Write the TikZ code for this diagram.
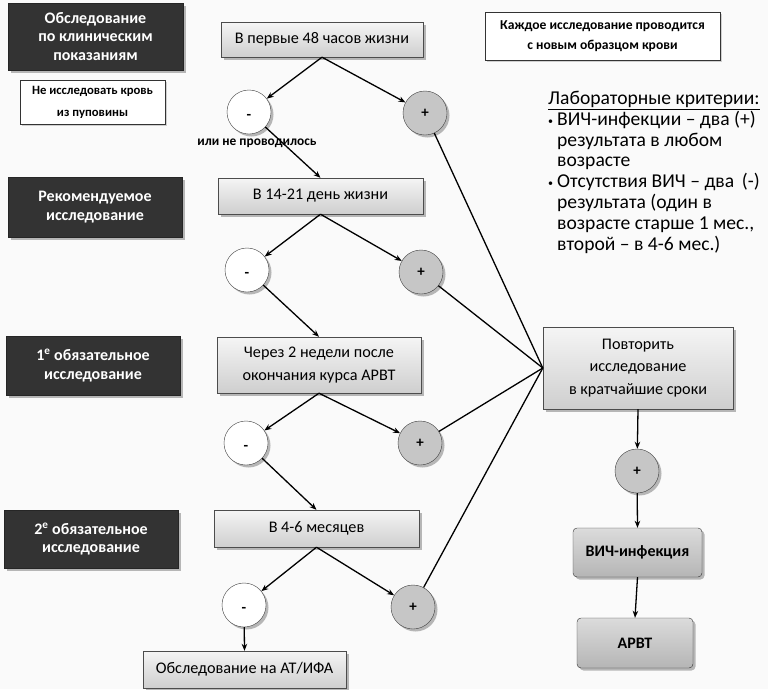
\documentclass[tikz,border=0pt]{standalone}
\usepackage{fontspec}
\setmainfont{Carlito}
\usetikzlibrary{shadows,arrows.meta}
\newcommand{\minussign}{\raisebox{-4pt}{-}}
\newcommand{\plussign}{\raisebox{-1pt}{+}}
\begin{document}
\begin{tikzpicture}[x=1pt,y=-1pt,
  sz/.style 2 args={minimum width=#1pt,minimum height=#2pt,inner sep=0pt},
  ml/.style={align=center},
  shadowed/.style={drop shadow={shadow xshift=2.5pt,shadow yshift=-2.5pt,fill=black!55}},
  darkbox/.style={draw=black!85,fill=black!80,text=white,ml,shadowed,
    font=\bfseries\fontsize{16}{18.5}\selectfont},
  stagebox/.style={draw=black!70,top color=gray!8,bottom color=gray!38,shadowed,
    font=\fontsize{16.2}{22.5}\selectfont},
  notebox/.style={draw=black!80,fill=white,ml,
    drop shadow={shadow xshift=1.5pt,shadow yshift=-1.5pt,fill=black!35}},
  resbox/.style={draw=black!80,rounded corners=4pt,top color=gray!28,bottom color=gray!58,
    shadowed,font=\bfseries\fontsize{16}{19}\selectfont},
  signcirc/.style={circle,draw=black!75,minimum size=44pt,inner sep=0pt,shadowed,
    text height=0.6em,text depth=0pt,font=\bfseries\fontsize{15}{18}\selectfont},
  negcirc/.style={signcirc,fill=white},
  poscirc/.style={signcirc,fill=gray!45},
  arr/.style={line width=1.3pt,-{Stealth[length=7pt,width=5.5pt]}},
  link/.style={line width=1.3pt}
]
% page background
\fill[gray!4] (0,0) rectangle (768,689);
\useasboundingbox (0,0) rectangle (768,689);

% stage labels on the left
\node[darkbox,sz={175}{67}] (d1) at (95.5,36.5) {Обследование\\по клиническим\\показаниям};
\node[notebox,sz={145}{44},font=\bfseries\fontsize{12.7}{22}\selectfont] (n1) at (92.5,102) {Не исследовать кровь\\из пуповины};
\node[darkbox,sz={174}{60}] (d2) at (95,207) {Рекомендуемое\\исследование};
\node[darkbox,sz={174}{59}] (d3) at (93,365.5) {1\textsuperscript{е} обязательное\\исследование};
\node[darkbox,sz={174}{58}] (d4) at (91,539) {2\textsuperscript{е} обязательное\\исследование};

% test time points
\node[stagebox,sz={202}{35}] (A) at (322,39.5) {В первые 48 часов жизни};
\node[stagebox,sz={205}{36}] (B) at (320.5,196) {В 14-21 день жизни};
\node[stagebox,ml,sz={204}{56}] (C) at (319,365) {Через 2 недели после\\окончания курса АРВТ};
\node[stagebox,sz={205}{37}] (D) at (316.5,528.5) {В 4-6 месяцев};
\node[stagebox,sz={203}{37}] (E) at (244.5,669.5) {Обследование на АТ/ИФА};

% results
\node[negcirc] (m1) at (249,112) {\minussign};
\node[poscirc] (p1) at (425,113) {\plussign};
\node[negcirc] (m2) at (247,270) {\minussign};
\node[poscirc] (p2) at (421,272) {\plussign};
\node[negcirc] (m3) at (246,443) {\minussign};
\node[poscirc] (p3) at (420,443) {\plussign};
\node[negcirc] (m4) at (244,605) {\minussign};
\node[poscirc] (p4) at (413,607) {\plussign};

\node[font=\bfseries\fontsize{13.4}{14}\selectfont] (nd) at (257,143) {или не проводилось};

% right column
\node[notebox,sz={235}{48},font=\bfseries\fontsize{13.6}{20}\selectfont] (info) at (602.5,36) {Каждое исследование проводится\\с новым образцом крови};
\node[anchor=north west,align=left,inner sep=0pt,font=\fontsize{19.6}{20.8}\selectfont] (lab) at (548,91)
{\underline{Лабораторные критерии:}\\
\makebox[9pt][l]{\raisebox{1pt}{\fontsize{10}{10}\selectfont•}}ВИЧ-инфекции – два (+)\\
\hspace*{9pt}результата в любом\\
\hspace*{9pt}возрасте\\
\makebox[9pt][l]{\raisebox{1pt}{\fontsize{10}{10}\selectfont•}}Отсутствия ВИЧ – два\, (-)\\
\hspace*{9pt}результата (один в\\
\hspace*{9pt}возрасте старше 1 мес.,\\
\hspace*{9pt}второй – в 4-6 мес.)};

\node[stagebox,ml,sz={190}{82}] (R) at (638,368) {Повторить\\исследование\\в кратчайшие сроки};
\node[poscirc] (p5) at (637,471) {\plussign};
\node[resbox,sz={129}{49}] (V) at (637.5,552.5) {ВИЧ-инфекция};
\node[resbox,sz={116}{50}] (T) at (635,643) {АРВТ};

% connectors
\coordinate (Rin) at (R.west);
\draw[arr] (A.south) -- (m1);
\draw[arr] (A.south) -- (p1);
\draw[arr] (m1) -- (B.north);
\draw[arr] (B.south) -- (m2);
\draw[arr] (B.south) -- (p2);
\draw[arr] (m2) -- (C.north);
\draw[arr] (C.south) -- (m3);
\draw[arr] (C.south) -- (p3);
\draw[arr] (m3) -- (D.north);
\draw[arr] (D.south) -- (m4);
\draw[arr] (D.south) -- (p4);
\draw[arr] (m4) -- (E.north);

\draw[link] (p1) -- (Rin);
\draw[link] (p2) -- (Rin);
\draw[link] (p3) -- (Rin);
\draw[link] (p4) -- (Rin);

\draw[arr] (R.south) -- (p5);
\draw[arr] (p5) -- (V.north);
\draw[arr] (V.south) -- (T.north);
\end{tikzpicture}
\end{document}
